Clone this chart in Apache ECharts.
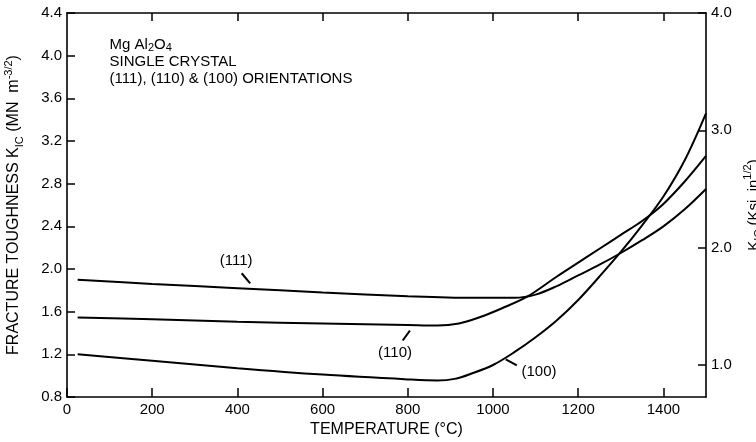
<!DOCTYPE html>
<html><head><meta charset="utf-8">
<script src="https://cdn.jsdelivr.net/npm/echarts@6/dist/echarts.min.js"></script>
<style>html,body{margin:0;padding:0;background:#fff}#c{width:756px;height:442px}</style>
</head><body><div id="c"></div>
<script>
// ---- data ----
const temps111 = [25, 200, 400, 600, 800, 950, 1050, 1100, 1150, 1200, 1250, 1300, 1350, 1400, 1450, 1500];
const k111     = [1.90, 1.86, 1.82, 1.78, 1.745, 1.73, 1.73, 1.76, 1.84, 1.94, 2.04, 2.15, 2.27, 2.40, 2.56, 2.75];
const temps110 = [25, 200, 400, 600, 800, 870, 920, 970, 1020, 1080, 1150, 1200, 1250, 1300, 1350, 1400, 1450, 1500];
const k110     = [1.545, 1.53, 1.505, 1.49, 1.475, 1.47, 1.49, 1.55, 1.63, 1.74, 1.93, 2.06, 2.19, 2.32, 2.45, 2.61, 2.82, 3.06];
const temps100 = [25, 200, 400, 600, 800, 870, 910, 950, 1000, 1050, 1100, 1150, 1200, 1250, 1300, 1350, 1400, 1450, 1500];
const k100     = [1.20, 1.14, 1.07, 1.01, 0.965, 0.955, 0.97, 1.02, 1.10, 1.22, 1.36, 1.52, 1.71, 1.93, 2.16, 2.41, 2.68, 3.02, 3.46];
const xTickValues = [0, 200, 400, 600, 800, 1000, 1200, 1400];
const rightTickValues = [1.0, 2.0, 3.0, 4.0];
const seriesNames = ['(111)', '(110)', '(100)'];
const ksiPerMPa = 1 / 1.1; // right axis scale factor
const xMin = 0, xMax = 1500, yMin = 0.8, yMax = 4.4, yStep = 0.4;

const FONT = 'Liberation Sans, Arial, sans-serif';
const pairs = (xs, ys) => xs.map((x, i) => [x, ys[i]]);

const chart = echarts.init(document.getElementById('c'), null, {renderer: 'canvas'});
const lineStyle = {color: '#000', width: 2};
const axisLine = () => ({show: true, onZero: false, lineStyle: {color: '#000', width: 1.6}});
const tickStyle = () => ({color: '#000', width: 1.5});
const mkSeries = (name, xs, ys) => ({
  name, type: 'line', data: pairs(xs, ys), xAxisIndex: 0, yAxisIndex: 0,
  showSymbol: false, smooth: 0.35,
  lineStyle, itemStyle: {color: '#000'}, silent: true, animation: false
});
const richSubSup = (lh) => ({
  sub: {fontSize: 11, fontFamily: FONT, color: '#000', verticalAlign: 'bottom', lineHeight: lh},
  sup: {fontSize: 11, fontFamily: FONT, color: '#000', verticalAlign: 'top', lineHeight: lh}
});

chart.setOption({
  animation: false,
  backgroundColor: '#fff',
  textStyle: {fontFamily: FONT, color: '#000'},
  grid: {left: 67, right: 50, top: 13, bottom: 45, containLabel: false, outerBoundsMode: 'none'},
  xAxis: [{
    type: 'value', min: xMin, max: xMax, position: 'bottom',
    name: 'TEMPERATURE (°C)', nameLocation: 'middle', nameGap: 24,
    nameTextStyle: {fontFamily: FONT, fontSize: 16, color: '#000'},
    axisLine: axisLine(),
    axisTick: {show: true, inside: true, length: 9, customValues: xTickValues, lineStyle: tickStyle()},
    axisLabel: {show: true, customValues: xTickValues, fontFamily: FONT, fontSize: 15, color: '#000', margin: 5,
      formatter: v => String(v)},
    splitLine: {show: false}
  }, {
    type: 'value', min: xMin, max: xMax, position: 'top',
    axisLine: axisLine(),
    axisTick: {show: true, inside: true, length: 8, customValues: xTickValues.slice(1), lineStyle: tickStyle()},
    axisLabel: {show: false}, splitLine: {show: false}
  }],
  yAxis: [{
    type: 'value', min: yMin, max: yMax, interval: yStep, position: 'left',
    name: 'FRACTURE TOUGHNESS K{sub|IC} (MN  m{sup|-3/2})', nameLocation: 'middle', nameGap: 42,
    nameTextStyle: {fontFamily: FONT, fontSize: 16, color: '#000', lineHeight: 22, rich: richSubSup(22)},
    axisLine: axisLine(),
    axisTick: {show: true, inside: true, length: 8, lineStyle: tickStyle()},
    axisLabel: {fontFamily: FONT, fontSize: 15, color: '#000', margin: 5, formatter: v => v.toFixed(1)},
    splitLine: {show: false}
  }, {
    type: 'value', min: yMin * ksiPerMPa, max: yMax * ksiPerMPa, position: 'right',
    name: 'K{sub|IC} (Ksi  in{sup|1/2})', nameLocation: 'middle', nameGap: 36, nameRotate: 90,
    nameTextStyle: {fontFamily: FONT, fontSize: 15, color: '#000', lineHeight: 22, rich: richSubSup(22)},
    axisLine: axisLine(),
    axisTick: {show: true, inside: true, length: 8, customValues: rightTickValues, lineStyle: tickStyle()},
    axisLabel: {customValues: rightTickValues, fontFamily: FONT, fontSize: 15, color: '#000', margin: 5, formatter: v => v.toFixed(1)},
    splitLine: {show: false}
  }],
  series: [
    mkSeries(seriesNames[0], temps111, k111),
    mkSeries(seriesNames[1], temps110, k110),
    mkSeries(seriesNames[2], temps100, k100)
  ]
});

// ---- annotations anchored in data coordinates ----
const annotations = [
  {text: seriesNames[0], at: [397, 2.078], leader: [[410, 1.96], [430, 1.865]]},
  {text: seriesNames[1], at: [770, 1.218], leader: [[788, 1.33], [805, 1.423]]},
  {text: seriesNames[2], at: [1108, 1.04], leader: [[1030, 1.152], [1056, 1.096]]}
];
const px = p => chart.convertToPixel({xAxisIndex: 0, yAxisIndex: 0}, p);
const graphics = [];
annotations.forEach(a => {
  const c = px(a.at);
  graphics.push({type: 'text', x: c[0], y: c[1], silent: true,
    style: {text: a.text, font: '15px ' + FONT, fill: '#000', align: 'center', verticalAlign: 'middle'}});
  const p1 = px(a.leader[0]), p2 = px(a.leader[1]);
  graphics.push({type: 'line', silent: true,
    shape: {x1: p1[0], y1: p1[1], x2: p2[0], y2: p2[1]}, style: {stroke: '#000', lineWidth: 2}});
});
const tl = px([100, 4.18]);
graphics.push({type: 'text', x: tl[0], y: tl[1], silent: true,
  style: {text: 'Mg Al{sub|2}O{sub|4}\nSINGLE CRYSTAL\n(111), (110) & (100) ORIENTATIONS',
    font: '15px ' + FONT, fill: '#000', align: 'left', verticalAlign: 'top', lineHeight: 17,
    rich: {sub: {fontSize: 11, fontFamily: FONT, verticalAlign: 'bottom', lineHeight: 17}}}});
chart.setOption({graphic: graphics});
</script></body></html>
